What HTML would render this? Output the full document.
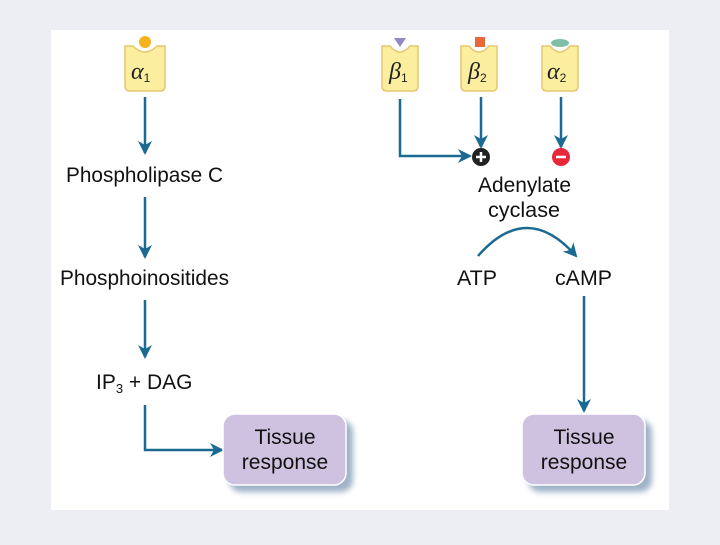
<!DOCTYPE html>
<html><head><style>
body{margin:0;width:720px;height:540px;background:#eceef3;overflow:hidden;font-family:"Liberation Sans",sans-serif}
</style></head><body>
<svg width="720" height="540" xmlns="http://www.w3.org/2000/svg" font-family="Liberation Sans, sans-serif">
<defs>
<marker id="b" markerWidth="14" markerHeight="14" refX="12" refY="7" orient="auto" markerUnits="userSpaceOnUse" viewBox="0 0 14 14"><path d="M0,0 L14,7 L0,14 L4,7z" fill="#1b6a92"/></marker>
<filter id="s" x="-20%" y="-20%" width="150%" height="150%"><feGaussianBlur stdDeviation="3"/></filter>
</defs>
<rect x="51" y="30" width="618" height="480" fill="#fff"/>
<g stroke="#e6c770" stroke-width="1.5" fill="#fbef9f">
<path d="M125,46 h8 q12,12 24,0 h8 v40 q0,5 -5,5 h-30 q-5,0 -5,-5z"/>
<path d="M382,46 h8 q10,12 20,0 h8 v40 q0,5 -5,5 h-26 q-5,0 -5,-5z"/>
<path d="M461,46 h8 q10,12 20,0 h8 v40 q0,5 -5,5 h-26 q-5,0 -5,-5z"/>
<path d="M542,46 h8 q10,12 20,0 h8 v40 q0,5 -5,5 h-26 q-5,0 -5,-5z"/>
</g>
<circle cx="145" cy="42" r="6" fill="#f5b21d"/>
<path d="M394,38 h12 l-6,9z" fill="#8e88c4"/>
<rect x="475" y="37" width="10" height="10" fill="#e8683a"/>
<ellipse cx="560" cy="43" rx="9" ry="4" fill="#7fbfa8"/>
<g font-family="Liberation Serif, serif" font-style="italic" font-size="24" fill="#222">
<text x="131" y="79">α<tspan font-size="12" font-style="normal" font-family="Liberation Sans" dy="3">1</tspan></text>
<text x="389" y="79">β<tspan font-size="12" font-style="normal" font-family="Liberation Sans" dy="3">1</tspan></text>
<text x="468" y="79">β<tspan font-size="12" font-style="normal" font-family="Liberation Sans" dy="3">2</tspan></text>
<text x="547" y="79">α<tspan font-size="12" font-style="normal" font-family="Liberation Sans" dy="3">2</tspan></text>
</g>
<g stroke="#1b6a92" stroke-width="2.5" fill="none" marker-end="url(#b)">
<path d="M145,97 V153"/>
<path d="M145,197 V257"/>
<path d="M145,300 V357"/>
<path d="M145,405 V450 H222"/>
<path d="M400,99 V156 H470"/>
<path d="M481,97 V147"/>
<path d="M561,97 V147"/>
<path d="M478,256 Q527,200 576,256"/>
<path d="M584,296 V411"/>
</g>
<circle cx="481" cy="157" r="9" fill="#222"/>
<path d="M476,157 h10 M481,152 v10" stroke="#fff" stroke-width="2.5"/>
<circle cx="561" cy="157" r="9" fill="#e8283a"/>
<path d="M556,157 h10" stroke="#fff" stroke-width="2.5"/>
<g font-size="21" fill="#111">
<text x="66" y="182" textLength="157" lengthAdjust="spacingAndGlyphs">Phospholipase C</text>
<text x="60" y="285" textLength="169" lengthAdjust="spacingAndGlyphs">Phosphoinositides</text>
<text x="96" y="389">IP<tspan font-size="13" dy="4">3</tspan><tspan dy="-4"> + DAG</tspan></text>
<text x="478" y="192" textLength="93" lengthAdjust="spacingAndGlyphs">Adenylate</text>
<text x="488" y="217" textLength="72" lengthAdjust="spacingAndGlyphs">cyclase</text>
<text x="457" y="285" textLength="40" lengthAdjust="spacingAndGlyphs">ATP</text>
<text x="555" y="285" textLength="57" lengthAdjust="spacingAndGlyphs">cAMP</text>
</g>
<rect x="229" y="420" width="124" height="72" rx="12" fill="#9fb3c8" filter="url(#s)"/>
<rect x="223" y="414" width="123" height="71" rx="12" fill="#cfc2e0" stroke="#fff" stroke-width="1.5"/>
<rect x="528" y="420" width="124" height="72" rx="12" fill="#9fb3c8" filter="url(#s)"/>
<rect x="522" y="414" width="123" height="71" rx="12" fill="#cfc2e0" stroke="#fff" stroke-width="1.5"/>
<g font-size="21" fill="#111" text-anchor="middle">
<text x="285" y="444">Tissue</text><text x="285" y="469">response</text>
<text x="584" y="444">Tissue</text><text x="584" y="469">response</text>
</g>
</svg>
</body></html>
